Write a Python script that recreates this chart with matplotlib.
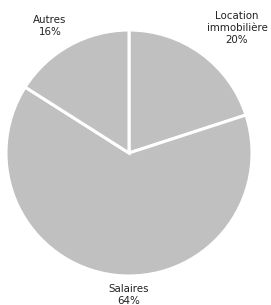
import matplotlib
matplotlib.use("Agg")
import matplotlib.pyplot as plt

categories = ["Location\nimmobilière", "Salaires", "Autres"]
values = [20, 64, 16]

W, H = 271, 305
fig = plt.figure(figsize=(W / 100, H / 100), dpi=100)
ax = fig.add_axes([0, 0, 1, 1])

cx, cy, r = 129, H - 153, 123
ax.pie(values, startangle=90, counterclock=False, colors=["#c0c0c0"] * 3,
       center=(cx, cy), radius=r, frame=True,
       wedgeprops=dict(edgecolor="white", linewidth=2.2))
ax.set_xlim(0, W)
ax.set_ylim(0, H)
ax.set_aspect("equal")
ax.axis("off")

label_pos = [(237, H - 28), (129, H - 295), (50, H - 26)]
for cat, v, (x, y) in zip(categories, values, label_pos):
    ax.text(x, y, f"{cat}\n{v}%", ha="center", va="center", fontsize=7.4,
            color="#222222", linespacing=1.2, family="DejaVu Sans")

fig.savefig("out.png", dpi=100)
